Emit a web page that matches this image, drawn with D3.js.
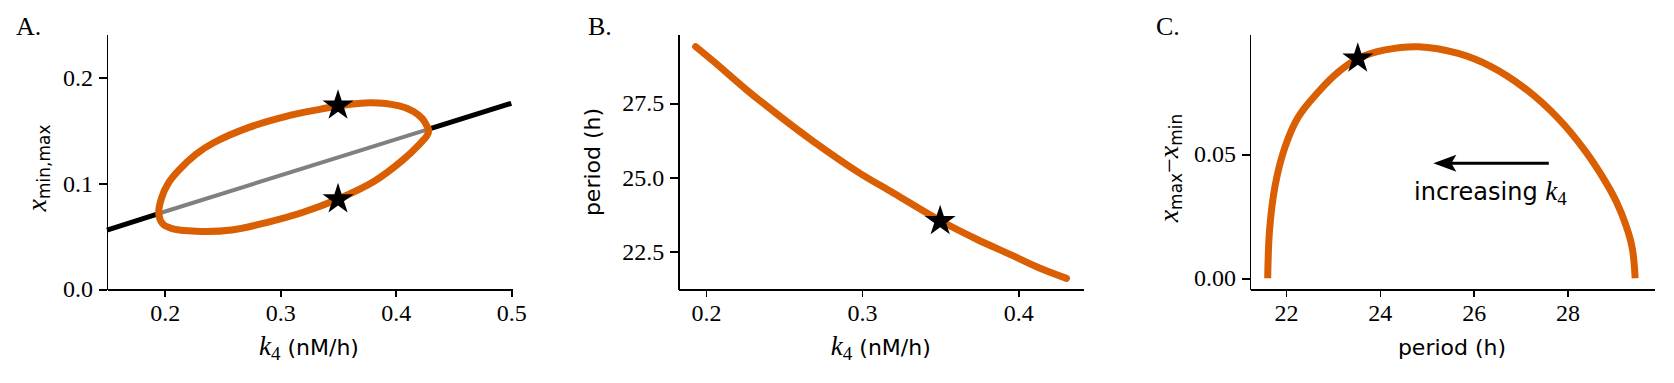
<!DOCTYPE html>
<html lang="en">
<head>
<meta charset="UTF-8">
<title>Limit cycle vs k4</title>
<script src="https://d3js.org/d3.v7.min.js"></script>
<style>
  body { margin: 0; background: #fff; }
  .axis path, .axis line { stroke: #000; stroke-width: 1.6; fill: none; shape-rendering: crispEdges; }
  .lab { font-family: "DejaVu Sans", sans-serif; font-size: 22px; fill: #000; }
  .panel { font-family: "Liberation Serif", serif; font-size: 26px; fill: #000; }
</style>
</head>
<body>
<svg id="fig" width="1674" height="383"></svg>
<script>
// ---- data ----
// A: upper (max) and lower (min) branch of the oscillation, steady state line
var k4Upper = [0.1948, 0.1975, 0.2030, 0.2118, 0.2270, 0.2427, 0.2735, 0.3043, 0.3351, 0.3503, 0.3783, 0.4030, 0.4150, 0.4230, 0.4270, 0.4285];
var xMaxA   = [0.0720, 0.0870, 0.1000, 0.1120, 0.1275, 0.1385, 0.1530, 0.1630, 0.1700, 0.1730, 0.1760, 0.1730, 0.1680, 0.1610, 0.1540, 0.1500];
var k4Lower = [0.1980, 0.2056, 0.2272, 0.2579, 0.2889, 0.3198, 0.3491, 0.3814, 0.4061, 0.4215, 0.4270];
var xMinA   = [0.0620, 0.0575, 0.0548, 0.0560, 0.0632, 0.0727, 0.0847, 0.1020, 0.1220, 0.1380, 0.1450];
var k4Steady = [0.15, 0.1948, 0.4285, 0.5];
var xSteady  = [0.0559, 0.0715, 0.1512, 0.1755];
var starA = [[0.35, 0.1733], [0.35, 0.0850]];

// B: period vs k4
var k4B     = [0.1934, 0.2047, 0.2261, 0.2474, 0.2687, 0.2987, 0.3200, 0.3499, 0.3734, 0.3947, 0.4140, 0.4309];
var periodB = [29.41, 28.92, 27.95, 27.06, 26.22, 25.14, 24.48, 23.55, 22.92, 22.41, 21.94, 21.60];
var starB = [[0.35, 23.53]];

// C: amplitude vs period
var periodC = [21.61, 21.65, 21.77, 21.98, 22.26, 22.69, 23.11, 23.54, 24.11, 24.82, 25.67, 26.38, 27.09, 27.80, 28.37, 28.79, 29.05, 29.25, 29.38, 29.44];
var ampC    = [0, 0.0195, 0.0376, 0.0530, 0.0650, 0.0752, 0.0831, 0.0887, 0.0921, 0.0934, 0.0907, 0.0853, 0.0766, 0.0645, 0.0515, 0.0395, 0.0305, 0.0210, 0.0120, 0];
var starC = [[23.53, 0.0886]];
var arrowC = [[27.6, 0.0464], [25.14, 0.0464]];
var noteC = [24.73, 0.0316];

// ticks
var ticksAx = [0.2, 0.3, 0.4, 0.5], labelsAx = ["0.2", "0.3", "0.4", "0.5"];
var ticksAy = [0.0, 0.1, 0.2],      labelsAy = ["0.0", "0.1", "0.2"];
var ticksBx = [0.2, 0.3, 0.4],      labelsBx = ["0.2", "0.3", "0.4"];
var ticksBy = [22.5, 25.0, 27.5],   labelsBy = ["22.5", "25.0", "27.5"];
var ticksCx = [22, 24, 26, 28],     labelsCx = ["22", "24", "26", "28"];
var ticksCy = [0.00, 0.05],         labelsCy = ["0.00", "0.05"];

var orange = "#d95f02";
var plotTop = 34.3, plotBottom = 289.3;
var svg = d3.select("#fig");

function zip(a, b) { return a.map(function (d, i) { return [d, b[i]]; }); }

function makeAxes(left, right, xdom, ydom, tx, lx, ty, ly) {
    var x = d3.scaleLinear().domain(xdom).range([left, right]);
    var y = d3.scaleLinear().domain(ydom).range([plotBottom, plotTop]);
    var gx = svg.append("g").attr("class", "axis")
        .attr("transform", "translate(0," + plotBottom + ")")
        .call(d3.axisBottom(x).tickValues(tx).tickFormat(function (d, i) { return lx[i]; })
            .tickSize(8).tickSizeOuter(0).tickPadding(7));
    var gy = svg.append("g").attr("class", "axis")
        .attr("transform", "translate(" + left + ",0)")
        .call(d3.axisLeft(y).tickValues(ty).tickFormat(function (d, i) { return ly[i]; })
            .tickSize(8).tickSizeOuter(0).tickPadding(6));
    [gx, gy].forEach(function (g) {
        g.attr("font-family", "Liberation Serif").attr("font-size", 24);
        g.selectAll("text").attr("fill", "#000");
    });
    return { x: x, y: y };
}

function stars(s, pts) {
    svg.selectAll(null).data(pts).enter().append("path")
        .attr("d", d3.symbol().type(d3.symbolStar).size(300))
        .attr("transform", function (d) { return "translate(" + s.x(d[0]) + "," + s.y(d[1]) + ")"; })
        .attr("fill", "#000");
}

// ---- panel A ----
var A = makeAxes(107, 511.3, [0.15, 0.5], [0, 0.2406], ticksAx, labelsAx, ticksAy, labelsAy);
var lineA = d3.line().x(function (d) { return A.x(d[0]); }).y(function (d) { return A.y(d[1]); });
var steady = zip(k4Steady, xSteady);
svg.append("path").attr("d", lineA(steady.slice(0, 2)))
    .attr("stroke", "#000").attr("stroke-width", 5).attr("fill", "none");
svg.append("path").attr("d", lineA(steady.slice(2, 4)))
    .attr("stroke", "#000").attr("stroke-width", 5).attr("fill", "none");
svg.append("path").attr("d", lineA(steady.slice(1, 3)))
    .attr("stroke", "#808080").attr("stroke-width", 4).attr("fill", "none");
var loop = zip(k4Upper, xMaxA).concat(zip(k4Lower, xMinA).reverse());
svg.append("path").attr("d", lineA.curve(d3.curveCatmullRomClosed)(loop))
    .attr("stroke", orange).attr("stroke-width", 7).attr("fill", "none");
stars(A, starA);

// ---- panel B ----
var B = makeAxes(678.3, 1083.2, [0.1823, 0.4416], [21.233, 29.825], ticksBx, labelsBx, ticksBy, labelsBy);
var lineB = d3.line().curve(d3.curveCatmullRom)
    .x(function (d) { return B.x(d[0]); }).y(function (d) { return B.y(d[1]); });
svg.append("path").attr("d", lineB(zip(k4B, periodB)))
    .attr("stroke", orange).attr("stroke-width", 7).attr("stroke-linecap", "round").attr("fill", "none");
stars(B, starB);

// ---- panel C ----
var C = makeAxes(1250, 1654.4, [21.233, 29.85], [-0.00444, 0.0984], ticksCx, labelsCx, ticksCy, labelsCy);
var lineC = d3.line().curve(d3.curveCatmullRom)
    .x(function (d) { return C.x(d[0]); }).y(function (d) { return C.y(d[1]); });
svg.append("path").attr("d", lineC(zip(periodC, ampC)))
    .attr("stroke", orange).attr("stroke-width", 7).attr("fill", "none");
stars(C, starC);

// arrow "increasing k4"
var ax0 = C.x(arrowC[0][0]), ay0 = C.y(arrowC[0][1]);
var ax1 = C.x(arrowC[1][0]), ay1 = C.y(arrowC[1][1]);
svg.append("line").attr("x1", ax0).attr("y1", ay0).attr("x2", ax1 + 15).attr("y2", ay1)
    .attr("stroke", "#000").attr("stroke-width", 3);
svg.append("path")
    .attr("d", "M0,0 L23,-8.5 L18,0 L23,8.5 Z")
    .attr("transform", "translate(" + ax1 + "," + ay1 + ")")
    .attr("fill", "#000");
var note = svg.append("text").attr("class", "lab").style("font-size", "24px")
    .attr("x", C.x(noteC[0])).attr("y", C.y(noteC[1]));
note.append("tspan").text("increasing ");
note.append("tspan").style("font-family", "Liberation Serif").style("font-style", "italic")
    .style("font-size", "27px").text("k");
note.append("tspan").style("font-family", "Liberation Serif").style("font-size", "19px")
    .attr("dy", 5).text("4");

// ---- axis labels ----
function k4Label(cx) {
    var t = svg.append("text").attr("class", "lab").attr("x", cx).attr("y", 355)
        .attr("text-anchor", "middle");
    t.append("tspan").style("font-family", "Liberation Serif").style("font-style", "italic")
        .style("font-size", "27px").text("k");
    t.append("tspan").style("font-family", "Liberation Serif").style("font-size", "19px")
        .attr("dy", 5).text("4");
    t.append("tspan").attr("dy", -5).text(" (nM/h)");
}
k4Label(309);
k4Label(880.8);
svg.append("text").attr("class", "lab").attr("x", 1452).attr("y", 355)
    .attr("text-anchor", "middle").text("period (h)");

svg.append("text").attr("class", "lab").attr("text-anchor", "middle")
    .attr("transform", "translate(600,162) rotate(-90)").text("period (h)");

var yA = svg.append("text").attr("class", "lab").attr("text-anchor", "middle")
    .attr("transform", "translate(46.4,168) rotate(-90)");
yA.append("tspan").style("font-family", "Liberation Serif").style("font-style", "italic")
    .style("font-size", "28px").text("x");
yA.append("tspan").style("font-size", "17px").attr("dy", 4).text("min,max");

var yC = svg.append("text").attr("class", "lab").attr("text-anchor", "middle")
    .attr("transform", "translate(1178,168) rotate(-90)");
yC.append("tspan").style("font-family", "Liberation Serif").style("font-style", "italic")
    .style("font-size", "28px").text("x");
yC.append("tspan").style("font-size", "17px").attr("dy", 4).text("max");
yC.append("tspan").style("font-family", "Liberation Serif").style("font-size", "26px")
    .attr("dy", -4).text("\u2212");
yC.append("tspan").style("font-family", "Liberation Serif").style("font-style", "italic")
    .style("font-size", "28px").text("x");
yC.append("tspan").style("font-size", "17px").attr("dy", 4).text("min");

// ---- panel letters ----
svg.append("text").attr("class", "panel").attr("x", 16).attr("y", 35).text("A.");
svg.append("text").attr("class", "panel").attr("x", 588).attr("y", 34.5).text("B.");
svg.append("text").attr("class", "panel").attr("x", 1156).attr("y", 34.5).text("C.");
</script>
</body>
</html>
